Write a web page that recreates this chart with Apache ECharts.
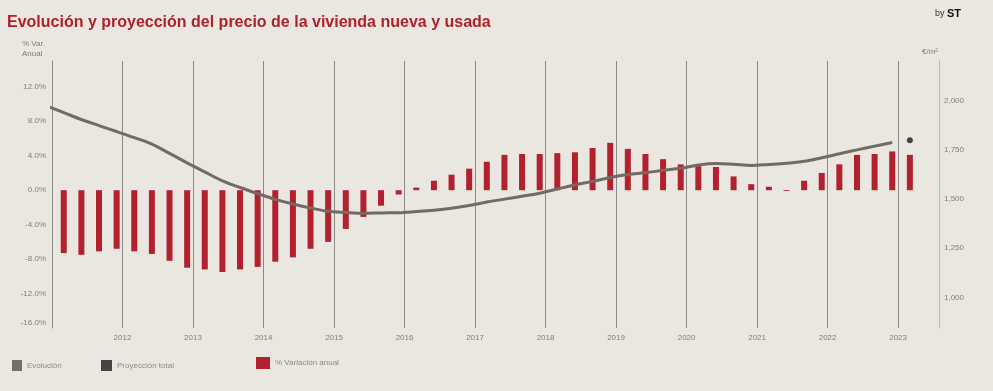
<!DOCTYPE html>
<html>
<head>
<meta charset="utf-8">
<script src="https://cdn.jsdelivr.net/npm/echarts@6/dist/echarts.min.js"></script>
<style>
html,body{margin:0;padding:0;background:#eae7e1;}
#chart{width:993px;height:391px;}
</style>
</head>
<body>
<div id="chart"></div>
<script>
// Quarterly categories for the annual % change bars
const barQuarters = [
  '2011-T1','2011-T2','2011-T3','2011-T4',
  '2012-T1','2012-T2','2012-T3','2012-T4',
  '2013-T1','2013-T2','2013-T3','2013-T4',
  '2014-T1','2014-T2','2014-T3','2014-T4',
  '2015-T1','2015-T2','2015-T3','2015-T4',
  '2016-T1','2016-T2','2016-T3','2016-T4',
  '2017-T1','2017-T2','2017-T3','2017-T4',
  '2018-T1','2018-T2','2018-T3','2018-T4',
  '2019-T1','2019-T2','2019-T3','2019-T4',
  '2020-T1','2020-T2','2020-T3','2020-T4',
  '2021-T1','2021-T2','2021-T3','2021-T4',
  '2022-T1','2022-T2','2022-T3','2022-T4',
  '2023-T1'
];
// % Variación anual
const variacionAnual = [
  -7.3, -7.5, -7.1, -6.8,
  -7.1, -7.4, -8.2, -9.0,
  -9.2, -9.5, -9.2, -8.9,
  -8.3, -7.8, -6.8, -6.0,
  -4.5, -3.1, -1.8, -0.5,
   0.3,  1.1,  1.8,  2.5,
   3.3,  4.1,  4.2,  4.2,
   4.3,  4.4,  4.9,  5.5,
   4.8,  4.2,  3.6,  3.0,
   2.8,  2.7,  1.6,  0.7,
   0.4, -0.1,  1.1,  2.0,
   3.0,  4.1,  4.2,  4.5,
   4.1
];
// Evolución (€/m²)
const lineQuarters = [
  '2010-T4',
  '2011-T1','2011-T2','2011-T3','2011-T4',
  '2012-T1','2012-T2','2012-T3','2012-T4',
  '2013-T1','2013-T2','2013-T3','2013-T4',
  '2014-T1','2014-T2','2014-T3','2014-T4',
  '2015-T1','2015-T2','2015-T3','2015-T4',
  '2016-T1','2016-T2','2016-T3','2016-T4',
  '2017-T1','2017-T2','2017-T3','2017-T4',
  '2018-T1','2018-T2','2018-T3','2018-T4',
  '2019-T1','2019-T2','2019-T3','2019-T4',
  '2020-T1','2020-T2','2020-T3','2020-T4',
  '2021-T1','2021-T2','2021-T3','2021-T4',
  '2022-T1','2022-T2','2022-T3','2022-T4'
];
const evolucion = [
  1973,
  1938, 1903, 1872, 1842,
  1811, 1778, 1731, 1683,
  1637, 1592, 1558, 1527,
  1498, 1474, 1454, 1437,
  1431, 1427, 1429, 1430,
  1436, 1443, 1453, 1467,
  1484, 1499, 1514, 1529,
  1550, 1571, 1589, 1609,
  1624, 1633, 1645, 1656,
  1672, 1680, 1676, 1670,
  1675, 1681, 1691, 1709,
  1729, 1749, 1768, 1786
];
// Proyección total
const proyQuarters = ['2023-T1'];
const proyeccion = [1798];

const yearTicks = [2012,2013,2014,2015,2016,2017,2018,2019,2020,2021,2022,2023];
const leftTicks = [-16,-12,-8,-4,0,4,8,12];
const rightTicks = [1000,1250,1500,1750,2000];

function qx(q){
  const p = q.split('-T');
  return Number(p[0]) + (3*Number(p[1]) - 1)/12;
}

const FONT = "'Liberation Sans', Arial, sans-serif";
const LBL = '#7d7d7d';

const chart = echarts.init(document.getElementById('chart'), null, {renderer:'canvas'});
chart.setOption({
  backgroundColor: '#eae7e1',
  animation: false,
  textStyle: {fontFamily: FONT},
  title: {
    text: 'Evolución y proyección del precio de la vivienda nueva y usada',
    left: 7, top: 15, padding: 0,
    textStyle: {fontSize: 16, fontWeight: 'bold', color: '#b0212c', fontFamily: FONT}
  },
  graphic: [
    {type:'text', left: 935, top: 8, style:{
      text: '{a|by }{b|ST}',
      rich: {a:{fontSize:9, fill:'#333', fontFamily:FONT}, b:{fontSize:11, fontWeight:'bold', fill:'#111', fontFamily:FONT}}
    }},
    {type:'text', right: 948, top: 39, style:{
      text: '% Var.\nAnual', fontSize: 8, lineHeight: 10, fill: LBL, align:'right', fontFamily: FONT
    }},
    {type:'text', left: 922, top: 48, style:{
      text: '€/m²', fontSize: 8, fill: LBL, fontFamily: FONT
    }}
  ],
  legend: [
    {data:[{name:'Evolución', icon:'rect'}], left: 12, top: 360, padding: 0, itemWidth: 10, itemHeight: 11,
      textStyle:{fontSize:8, color:'#8a8a8a', fontFamily: FONT}, selectedMode:false},
    {data:[{name:'Proyección total', icon:'rect'}], left: 101, top: 360, padding: 0, itemWidth: 11, itemHeight: 11,
      textStyle:{fontSize:8, color:'#8a8a8a', fontFamily: FONT}, selectedMode:false},
    {data:[{name:'% Variación anual', icon:'rect'}], left: 256, top: 357, padding: 0, itemWidth: 14, itemHeight: 12,
      textStyle:{fontSize:8, color:'#8a8a8a', fontFamily: FONT}, selectedMode:false}
  ],
  grid: {left: 52, right: 54, top: 61, height: 267, containLabel: false},
  xAxis: {
    type: 'value', min: 2011, max: 2023.58, interval: 1,
    axisLine: {show: false}, axisTick: {show: false},
    splitLine: {show: true, lineStyle: {color: '#8c8a87', width: 1}},
    axisLabel: {
      color: LBL, fontSize: 8, margin: 6, fontFamily: FONT,
      formatter: v => yearTicks.indexOf(v) >= 0 ? String(v) : ''
    }
  },
  yAxis: [
    {
      type: 'value', min: -16, max: 15, position: 'left',
      splitLine: {show: false}, axisTick: {show: false},
      axisLine: {show: true, lineStyle: {color: '#8c8a87', width: 1}},
      axisLabel: {
        color: LBL, fontSize: 8, margin: 6, fontFamily: FONT,
        customValues: leftTicks,
        formatter: v => v === -16 ? '{low|' + v.toFixed(1) + '%}' : v.toFixed(1) + '%',
        rich: {low: {fontSize: 8, color: LBL, fontFamily: FONT, padding: [0, 0, 10, 0]}}
      }
    },
    {
      type: 'value', min: 845, max: 2200, position: 'right', z: 5,
      splitLine: {show: false}, axisTick: {show: false},
      axisLine: {show: true, lineStyle: {color: '#b8b6b2', width: 1}},
      axisLabel: {
        color: LBL, fontSize: 8, margin: 5, fontFamily: FONT,
        customValues: rightTicks,
        formatter: v => v.toLocaleString('en-US')
      }
    }
  ],
  series: [
    {
      name: '% Variación anual', type: 'bar', yAxisIndex: 0, barWidth: 6,
      itemStyle: {color: '#b2212d'},
      data: barQuarters.map((q, i) => [qx(q), variacionAnual[i]])
    },
    {
      name: 'Evolución', type: 'line', yAxisIndex: 1, smooth: 0.35,
      showSymbol: false, symbol: 'none', clip: true,
      itemStyle: {color: '#786c67'},
      lineStyle: {color: '#736965', width: 3},
      data: lineQuarters.map((q, i) => [qx(q), evolucion[i]]),
      z: 3
    },
    {
      name: 'Proyección total', type: 'scatter', yAxisIndex: 1, symbolSize: 6,
      itemStyle: {color: '#1c1c1c'},
      data: proyQuarters.map((q, i) => [qx(q), proyeccion[i]]),
      z: 4
    }
  ]
});
</script>
</body>
</html>
